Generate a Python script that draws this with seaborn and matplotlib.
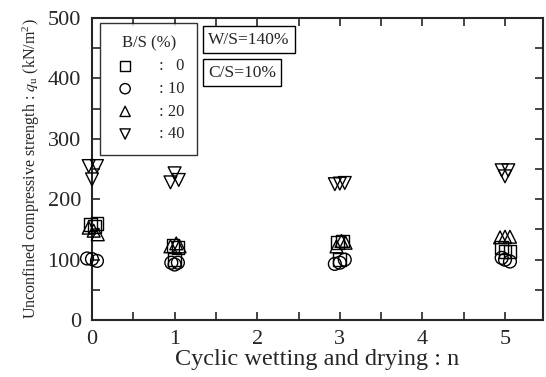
import numpy as np
import pandas as pd
import seaborn as sns
import matplotlib.pyplot as plt
from matplotlib.ticker import MultipleLocator

# B/S ratio groups and their markers
bs_groups = ['0', '10', '20', '40']
bs_markers = {'0': 's', '10': 'o', '20': '^', '40': 'v'}

# cycles (three specimens each, slightly offset as in the original)
cycles_0 = [-0.02, 0.06, 0.03, 0.98, 1.04, 1.0, 2.97, 3.03, 3.0, 4.96, 5.06, 5.0]
qu_0 = [158, 160, 155, 123, 120, 100, 128, 131, 100, 120, 114, 113]

cycles_10 = [-0.06, 0.0, 0.06, 0.96, 1.0, 1.04, 2.94, 3.0, 3.06, 4.96, 5.0, 5.06]
qu_10 = [102, 101, 98, 95, 92, 95, 93, 95, 100, 103, 100, 97]

cycles_20 = [-0.04, 0.02, 0.07, 0.95, 1.02, 1.06, 2.96, 3.02, 3.07, 4.94, 5.0, 5.06]
qu_20 = [153, 148, 142, 122, 127, 122, 122, 131, 128, 137, 138, 138]

cycles_40 = [-0.04, 0.06, 0.0, 0.95, 1.0, 1.05, 2.94, 3.0, 3.06, 4.96, 5.04, 5.0]
qu_40 = [255, 255, 233, 228, 243, 232, 225, 226, 227, 248, 248, 238]

df = pd.concat([
    pd.DataFrame({'n': cycles_0, 'qu': qu_0, 'bs': '0'}),
    pd.DataFrame({'n': cycles_10, 'qu': qu_10, 'bs': '10'}),
    pd.DataFrame({'n': cycles_20, 'qu': qu_20, 'bs': '20'}),
    pd.DataFrame({'n': cycles_40, 'qu': qu_40, 'bs': '40'}),
])

sns.set_style('ticks')
plt.rcParams['font.family'] = ['Liberation Serif', 'DejaVu Serif']
plt.rcParams['mathtext.fontset'] = 'stix'

fig = plt.figure(figsize=(5.46, 3.77), dpi=100)
ax = fig.add_axes([0.1685, 0.151, 0.826, 0.801])

labels = {'0': ':   0', '10': ': 10', '20': ': 20', '40': ': 40'}
for g in bs_groups:
    sub = df[df['bs'] == g]
    sns.scatterplot(data=sub, x='n', y='qu', marker=bs_markers[g], s=85,
                    facecolors='none', edgecolor='black', linewidth=1.0,
                    label=labels[g], ax=ax, zorder=3, clip_on=False)

ax.set_xlim(0, 5.46)
ax.set_ylim(0, 500)
ax.xaxis.set_major_locator(MultipleLocator(1))
ax.xaxis.set_minor_locator(MultipleLocator(0.5))
ax.yaxis.set_major_locator(MultipleLocator(100))
ax.yaxis.set_minor_locator(MultipleLocator(50))
ax.tick_params(which='both', direction='in', top=True, right=True, width=1.2)
ax.tick_params(which='major', length=6, labelsize=16)
ax.tick_params(which='minor', length=6)
ax.tick_params(axis='x', which='major', pad=7)
ax.tick_params(axis='y', which='major', pad=8)
for sp in ax.spines.values():
    sp.set_linewidth(1.5)

ax.set_xlabel('Cyclic wetting and drying : n', fontsize=17.5, labelpad=0)
ax.set_ylabel(r'Unconfined compressive strength : $q_\mathregular{u}$ (kN/m$^\mathregular{2}$)',
              fontsize=11.5, labelpad=4)

leg = ax.legend(title='B/S (%)', loc='upper left', bbox_to_anchor=(0.018, 0.983),
                borderaxespad=0, frameon=True, fancybox=False, edgecolor='black',
                fontsize=12, title_fontsize=12, labelspacing=0.4,
                handlelength=1.5, handletextpad=1.3, borderpad=0.75,
                markerscale=0.8)
leg.get_frame().set_linewidth(1.0)

box = dict(boxstyle='square,pad=0.3', facecolor='white', edgecolor='black', linewidth=1.0)
ax.text(0.257, 0.955, 'W/S=140%', transform=ax.transAxes, fontsize=12.5, va='top', bbox=box)
ax.text(0.257, 0.846, 'C/S=10%', transform=ax.transAxes, fontsize=12.5, va='top', bbox=box)

fig.savefig('out.png', dpi=100)
